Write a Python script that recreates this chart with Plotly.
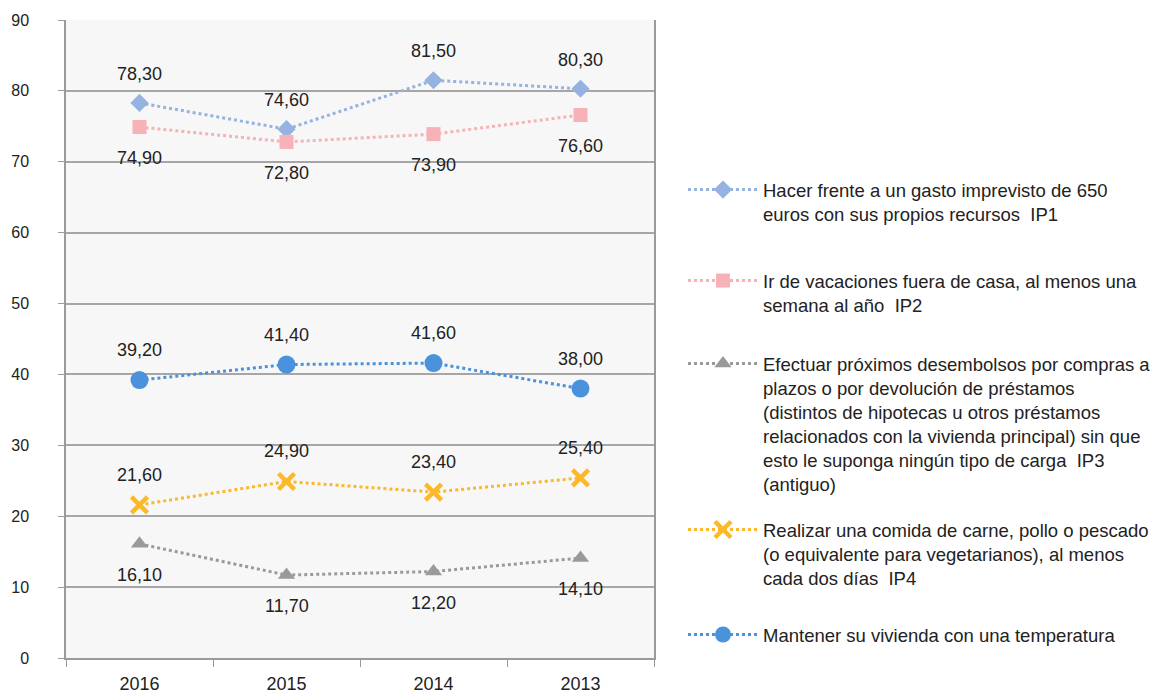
import plotly.graph_objects as go

# Years on the category axis (most recent first)
years = ["2016", "2015", "2014", "2013"]

# Percentage values per indicator
ip1 = [78.30, 74.60, 81.50, 80.30]
ip2 = [74.90, 72.80, 73.90, 76.60]
ip3 = [16.10, 11.70, 12.20, 14.10]
ip4 = [21.60, 24.90, 23.40, 25.40]
ip5 = [39.20, 41.40, 41.60, 38.00]

names = [
    "Hacer frente a un gasto imprevisto de 650<br>euros con sus propios recursos  IP1",
    "Ir de vacaciones fuera de casa, al menos una<br>semana al año  IP2",
    "Efectuar próximos desembolsos por compras a<br>plazos o por devolución de préstamos<br>"
    "(distintos de hipotecas u otros préstamos<br>relacionados con la vivienda principal) sin que<br>"
    "esto le suponga ningún tipo de carga  IP3<br>(antiguo)",
    "Realizar una comida de carne, pollo o pescado<br>(o equivalente para vegetarianos), al menos<br>cada dos días  IP4",
    "Mantener su vivienda con una temperatura",
]

series = [ip1, ip2, ip3, ip4, ip5]
colors = ["#95b2e0", "#f6b2b6", "#9a9a9a", "#fbb829", "#4a92dc"]
symbols = ["diamond", "square", "triangle-up", "x-thin-open", "circle"]
sizes = [14, 14, 15, 16, 18]
label_shift = [29, -31, -31, 30, 30]

# Legend block tops (pixels from the top of the page)
legend_tops = [171, 262, 345, 511, 616]

FONT = "Liberation Sans, Arial, sans-serif"
W, H = 1155, 693
M_L, M_R, M_T, M_B = 66, 501, 20, 35
plot_h = H - M_T - M_B
plot_w = W - M_L - M_R

fig = go.Figure()
layout_legends = {}
for i, (vals, name) in enumerate(zip(series, names)):
    marker = dict(color=colors[i], size=sizes[i], symbol=symbols[i])
    if symbols[i] == "x-thin-open":
        marker["line"] = dict(color=colors[i], width=4.5)
    key = "legend" if i == 0 else f"legend{i + 1}"
    fig.add_trace(go.Scatter(
        x=years, y=vals, name=name, mode="lines+markers",
        line=dict(color=colors[i], width=3, dash="dot"),
        marker=marker, legend=key,
    ))
    layout_legends[key] = dict(
        x=(683 - M_L) / plot_w, xanchor="left",
        y=(H - M_B - legend_tops[i]) / plot_h, yanchor="top",
        font=dict(family=FONT, size=18.5, color="#222222"),
        itemwidth=70, valign="top", bgcolor="rgba(0,0,0,0)",
    )
    for j, v in enumerate(vals):
        fig.add_annotation(
            x=j, y=v, yshift=label_shift[i], showarrow=False,
            text=f"{v:.2f}".replace(".", ","),
            font=dict(family=FONT, size=18, color="#222222"),
        )

fig.update_layout(
    width=W, height=H,
    margin=dict(l=M_L, r=M_R, t=M_T, b=M_B, autoexpand=False),
    paper_bgcolor="white", plot_bgcolor="#f7f7f7",
    font=dict(family=FONT, size=18, color="#222222"),
    showlegend=True,
    **layout_legends,
)
fig.update_xaxes(
    type="category", range=[-0.5, 3.5], showgrid=False, showline=True,
    linecolor="#9a9a9a", linewidth=1.5, automargin=False,
    ticks="outside", tickson="boundaries", ticklen=7, tickcolor="#9a9a9a",
    ticklabelstandoff=9,
    tickfont=dict(family=FONT, size=18, color="#222222"),
)
fig.update_yaxes(
    range=[0, 90], dtick=10, showgrid=True, gridcolor="#a6a6a6", gridwidth=1.5,
    showline=True, linecolor="#9a9a9a", linewidth=1.5, mirror=True,
    ticks="outside", ticklen=6, tickcolor="#9a9a9a", zeroline=False,
    ticklabelstandoff=26, automargin=False,
    tickfont=dict(family=FONT, size=16, color="#222222"),
)

fig.write_html("out.html")
